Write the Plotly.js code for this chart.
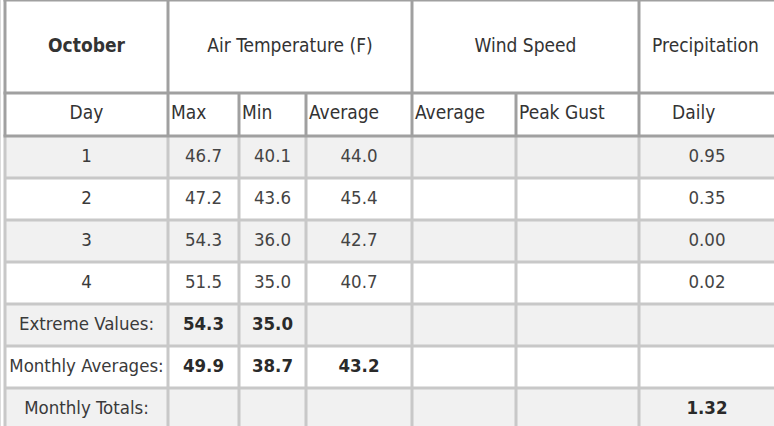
<!DOCTYPE html>
<html>
<head>
<meta charset="utf-8">
<script src="https://cdn.plot.ly/plotly-3.0.1.min.js"></script>
<style>
html,body{margin:0;padding:0;overflow:hidden;background:#fff;}
#chart{width:778px;height:430px;}
</style>
</head>
<body>
<div id="chart"></div>
<script>
// ---- data ----
const groupHeaders = ['October', 'Air Temperature (F)', 'Wind Speed', 'Precipitation'];
const subHeaders = ['Day', 'Max', 'Min', 'Average', 'Average', 'Peak Gust', 'Daily'];
const dayLabels = ['1', '2', '3', '4'];
const maxTemp = [46.7, 47.2, 54.3, 51.5];
const minTemp = [40.1, 43.6, 36.0, 35.0];
const avgTemp = [44.0, 45.4, 42.7, 40.7];
const windAvg = [null, null, null, null];
const peakGust = [null, null, null, null];
const precipDaily = [0.95, 0.35, 0.00, 0.02];
const summaryLabels = ['Extreme Values:', 'Monthly Averages:', 'Monthly Totals:'];
const extremeValues = [54.3, 35.0, null, null, null, null];
const monthlyAverages = [49.9, 38.7, 43.2, null, null, null];
const monthlyTotals = [null, null, null, null, null, 1.32];
const decimals = [1, 1, 1, 1, 1, 2];

// ---- layout constants ----
const W = 778, H = 430;
const E = [5, 168, 239, 306, 412, 516, 639, 778];   // column edges
const groupSpans = [[0, 1], [1, 4], [4, 6], [6, 7]];
const H1 = 93, H2 = 136, ROW = 42;
const FONT = '"DejaVu Sans Condensed", "DejaVu Sans", sans-serif';
const DARK = '#a0a0a0', LIGHT = '#c8c8c8', ZEBRA = '#f1f1f1';

function fmt(v, d) { return (v === null || v === undefined) ? '' : v.toFixed(d); }

// body rows as text
const dataCols = [maxTemp, minTemp, avgTemp, windAvg, peakGust, precipDaily];
const rows = [];
dayLabels.forEach((d, i) => {
  rows.push({label: d, vals: dataCols.map((c, j) => fmt(c[i], decimals[j])), bold: false});
});
[extremeValues, monthlyAverages, monthlyTotals].forEach((arr, k) => {
  rows.push({label: summaryLabels[k], vals: arr.map((v, j) => fmt(v, decimals[j])), bold: true});
});

const shapes = [];
// zebra fills
rows.forEach((r, i) => {
  if (i % 2 === 0) {
    shapes.push({type: 'rect', xref: 'x', yref: 'y', x0: E[0], x1: E[7], y0: H2 + i * ROW, y1: H2 + (i + 1) * ROW,
      fillcolor: ZEBRA, line: {width: 0}, layer: 'below'});
  }
});
function line(x0, y0, x1, y1, color, w) {
  shapes.push({type: 'line', xref: 'x', yref: 'y', x0, y0, x1, y1, line: {color, width: w}});
}
// light body grid
for (let i = 1; i <= rows.length; i++) line(E[0], H2 + i * ROW, E[7], H2 + i * ROW, LIGHT, 3);
E.forEach(x => line(x, H2, x, H2 + rows.length * ROW + 4, LIGHT, 3));
// page edge
line(0.5, 0, 0.5, H, '#dcdcdc', 1);
// dark header grid
line(E[0] - 1.5, 0, E[7], 0, DARK, 3);
line(E[0] - 1.5, H1, E[7], H1, DARK, 3);
line(E[0] - 1.5, H2, E[7], H2, DARK, 3);
groupSpans.forEach(s => line(E[s[0]], 0, E[s[0]], H1, DARK, 3));
line(E[7], 0, E[7], H1, DARK, 3);
E.forEach(x => line(x, H1, x, H2, DARK, 3));

// text
const tx = [], ty = [], tt = [], tp = [], tc = [], ts = [];
function addText(x, y, t, pos, color, size) { tx.push(x); ty.push(y); tt.push(t); tp.push(pos); tc.push(color); ts.push(size); }
groupHeaders.forEach((g, i) => {
  const s = groupSpans[i];
  addText((E[s[0]] + E[s[1]]) / 2 + (i === 3 ? -3 : 0), H1 / 2 + 1, i === 0 ? '<b>' + g + '</b>' : g, 'middle center', '#333', 19);
});
subHeaders.forEach((h, i) => {
  const y = (H1 + H2) / 2;
  if (i === 0) addText((E[0] + E[1]) / 2, y, h, 'middle center', '#333', 19);
  else if (i === 6) addText(E[6] + 33, y, h, 'middle right', '#333', 19);
  else addText(E[i] + 3, y, h, 'middle right', '#333', 19);
});
rows.forEach((r, i) => {
  const y = H2 + i * ROW + ROW / 2;
  addText((E[0] + E[1]) / 2, y, r.label, 'middle center', '#3a3a3a', 18.5);
  r.vals.forEach((v, j) => {
    if (v === '') return;
    let x = (E[j + 1] + E[j + 2]) / 2;
    if (j === 5) x = E[6] + 68;
    addText(x, y, r.bold ? '<b>' + v + '</b>' : v, 'middle center', r.bold ? '#2a2a2a' : '#444', 18.5);
  });
});

const trace = {
  type: 'scatter', mode: 'text', x: tx, y: ty, text: tt, textposition: tp,
  textfont: {family: FONT, size: ts, color: tc},
  hoverinfo: 'skip', showlegend: false, cliponaxis: false
};

const layout = {
  width: W, height: H,
  margin: {l: 0, r: 0, t: 0, b: 0},
  paper_bgcolor: '#fff', plot_bgcolor: '#fff',
  xaxis: {range: [0, W], visible: false, fixedrange: true},
  yaxis: {range: [H, 0], visible: false, fixedrange: true},
  shapes: shapes,
  showlegend: false
};

Plotly.newPlot('chart', [trace], layout, {displayModeBar: false, staticPlot: true});
</script>
</body>
</html>
